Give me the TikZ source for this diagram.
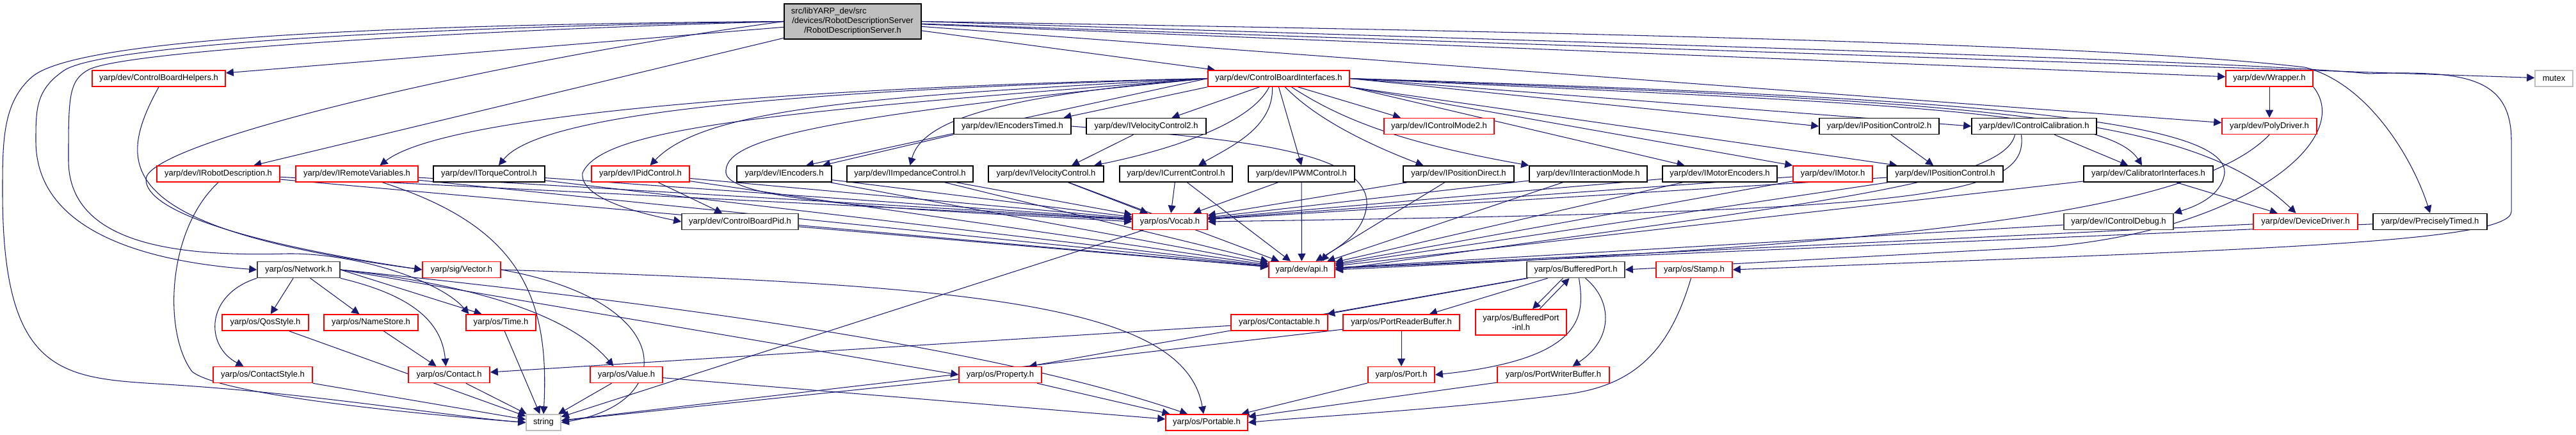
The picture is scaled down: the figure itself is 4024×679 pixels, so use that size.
\documentclass[tikz,border=0pt]{standalone}
\usepackage{fontspec}
\setmainfont{Liberation Sans}
\usetikzlibrary{arrows.meta,backgrounds}
\definecolor{edgeblue}{RGB}{25,25,112}
\definecolor{hdrgray}{RGB}{191,191,191}
\definecolor{boxdark}{RGB}{64,64,64}
\tikzset{
  incl/.style={draw=black,line width=0.45pt,fill=white,inner sep=0pt,
               minimum height=0.25cm,font=\fontsize{3.7}{4.25}\selectfont},
  inclred/.style={incl,draw=red},
  incldark/.style={incl,draw=boxdark},
  sysinc/.style={incl,draw=hdrgray},
  rootfile/.style={incl,fill=hdrgray,align=center},
  dep/.style={draw=edgeblue,line width=0.3pt,-{Triangle[length=3.4pt,width=3.4pt]}},
}
\begin{document}
\begin{tikzpicture}[x=0.01cm,y=-0.01cm]
\useasboundingbox (0,0) rectangle (4024,679);
% the file itself
\node[rootfile,minimum width=2.14cm,minimum height=0.55cm] (root) at (1332,33.5)
  {\makebox[1.92cm][l]{src/libYARP\_dev/src}\\/devices/RobotDescriptionServer\\/RobotDescriptionServer.h};
% row 1
\node[inclred,minimum width=2.08cm] (cbh) at (248,122.5) {yarp/dev/ControlBoardHelpers.h};
\node[inclred,minimum width=2.21cm] (cbi) at (1997.5,122.5) {yarp/dev/ControlBoardInterfaces.h};
\node[inclred,minimum width=1.36cm] (wrap) at (3545,122.5) {yarp/dev/Wrapper.h};
\node[sysinc,minimum width=0.59cm] (mutex) at (3989.5,122.5) {mutex};
% row 2
\node[incl,minimum width=1.83cm] (ietm) at (1581.5,197) {yarp/dev/IEncodersTimed.h};
\node[incl,minimum width=1.87cm] (ivc2) at (1790.5,197) {yarp/dev/IVelocityControl2.h};
\node[inclred,minimum width=1.72cm] (icm2) at (2248,197) {yarp/dev/IControlMode2.h};
\node[incl,minimum width=1.87cm] (ipc2) at (2935.5,197) {yarp/dev/IPositionControl2.h};
\node[incl,minimum width=1.95cm] (ical) at (3177.5,197) {yarp/dev/IControlCalibration.h};
\node[inclred,minimum width=1.48cm] (poly) at (3545,197) {yarp/dev/PolyDriver.h};
% row 3
\node[inclred,minimum width=1.92cm] (irbd) at (341,271.5) {yarp/dev/IRobotDescription.h};
\node[inclred,minimum width=1.91cm] (irv) at (557.5,271.5) {yarp/dev/IRemoteVariables.h};
\node[incl,minimum width=1.74cm] (itc) at (764,271.5) {yarp/dev/ITorqueControl.h};
\node[inclred,minimum width=1.53cm] (ipid) at (1000.5,271.5) {yarp/dev/IPidControl.h};
\node[incl,minimum width=1.48cm] (ienc) at (1225,271.5) {yarp/dev/IEncoders.h};
\node[incl,minimum width=1.97cm] (iimp) at (1421.5,271.5) {yarp/dev/IImpedanceControl.h};
\node[incl,minimum width=1.80cm] (ivc) at (1634,271.5) {yarp/dev/IVelocityControl.h};
\node[incl,minimum width=1.76cm] (icc) at (1837,271.5) {yarp/dev/ICurrentControl.h};
\node[incl,minimum width=1.66cm] (ipwm) at (2033,271.5) {yarp/dev/IPWMControl.h};
\node[incl,minimum width=1.73cm] (ipd) at (2278.5,271.5) {yarp/dev/IPositionDirect.h};
\node[incl,minimum width=1.84cm] (iim) at (2481,271.5) {yarp/dev/IInteractionMode.h};
\node[incl,minimum width=1.79cm] (ime) at (2686.5,271.5) {yarp/dev/IMotorEncoders.h};
\node[inclred,minimum width=1.24cm] (imot) at (2863,271.5) {yarp/dev/IMotor.h};
\node[incl,minimum width=1.81cm] (ipc) at (3038.5,271.5) {yarp/dev/IPositionControl.h};
\node[incl,minimum width=2.02cm] (cali) at (3356,271.5) {yarp/dev/CalibratorInterfaces.h};
% row 4
\node[incldark,minimum width=1.82cm] (cbpid) at (1156,346) {yarp/dev/ControlBoardPid.h};
\node[inclred,minimum width=1.17cm] (vocab) at (1827.5,346) {yarp/os/Vocab.h};
\node[incldark,minimum width=1.71cm] (idbg) at (3309.5,346) {yarp/dev/IControlDebug.h};
\node[inclred,minimum width=1.63cm] (ddrv) at (3601.5,346) {yarp/dev/DeviceDriver.h};
\node[incl,minimum width=1.78cm] (ptim) at (3796,346) {yarp/dev/PreciselyTimed.h};
% row 5
\node[incldark,minimum width=1.29cm] (net) at (466.5,421) {yarp/os/Network.h};
\node[inclred,minimum width=1.22cm] (vec) at (721,421) {yarp/sig/Vector.h};
\node[inclred,minimum width=1.03cm] (api) at (2033.5,421) {yarp/dev/api.h};
\node[incldark,minimum width=1.53cm] (bport) at (2461.5,421) {yarp/os/BufferedPort.h};
\node[inclred,minimum width=1.19cm] (stamp) at (2646.5,421) {yarp/os/Stamp.h};
% row 6
\node[inclred,minimum width=1.35cm] (qos) at (414.5,503.5) {yarp/os/QosStyle.h};
\node[inclred,minimum width=1.47cm] (nstore) at (579.5,503.5) {yarp/os/NameStore.h};
\node[inclred,minimum width=1.09cm] (time) at (782.5,503.5) {yarp/os/Time.h};
\node[inclred,minimum width=1.51cm] (ctable) at (1998.5,503.5) {yarp/os/Contactable.h};
\node[inclred,minimum width=1.82cm] (prb) at (2189,503.5) {yarp/os/PortReaderBuffer.h};
\node[inclred,align=center,minimum width=1.42cm,minimum height=0.40cm] (bpinl) at (2376,503) {yarp/os/BufferedPort\\-inl.h};
% row 7
\node[inclred,minimum width=1.55cm] (cstyle) at (410.5,585) {yarp/os/ContactStyle.h};
\node[inclred,minimum width=1.27cm] (contact) at (701.5,585) {yarp/os/Contact.h};
\node[inclred,minimum width=1.13cm] (value) at (978.5,585) {yarp/os/Value.h};
\node[inclred,minimum width=1.29cm] (prop) at (1562.5,585) {yarp/os/Property.h};
\node[inclred,minimum width=1.04cm] (port) at (2189,585) {yarp/os/Port.h};
\node[inclred,minimum width=1.75cm] (pwb) at (2426.5,585) {yarp/os/PortWriterBuffer.h};
% row 8
\node[sysinc,minimum width=0.54cm] (str) at (849,659.5) {string};
\node[inclred,minimum width=1.28cm] (portable) at (1885,659.5) {yarp/os/Portable.h};

\begin{scope}[on background layer]
% what the server header pulls in
\draw[dep] (root) -- (cbh);
\draw[dep] (root) -- (cbi);
\draw[dep] (root) -- (irbd);
\draw[dep] (root) -- (wrap);
\draw[dep] (root) -- (poly);
\draw[dep] (root) -- (mutex);
\draw[dep] (root.west) .. controls (600,38) and (120,60) .. (50,120) .. controls (4,160) and (4,220) .. (4,300)
  .. controls (4,590) and (100,590) .. (260,600) .. controls (500,615) and (700,650) .. (str.west);
\draw[dep] (root.west) .. controls (650,42) and (160,70) .. (100,110) .. controls (56,140) and (56,170) .. (56,220)
  .. controls (56,370) and (250,410) .. (net.west);
\draw[dep] (root.west) .. controls (700,48) and (200,80) .. (140,108) .. controls (107,125) and (107,150) .. (107,250)
  .. controls (107,390) and (300,400) .. (450,396) .. controls (560,395) and (690,440) .. ([xshift=-0.5cm]time.north);
\draw[dep] (root.west) .. controls (800,90) and (228,220) .. (228,280) .. controls (228,340) and (450,390) .. (vec.west);
\draw[dep] (root.east) .. controls (2500,50) and (3300,70) .. (3600,105) .. controls (3700,130) and (3770,250) .. (ptim.north);
\draw[dep] (root.east) .. controls (2600,70) and (3500,95) .. (3700,115) .. controls (3850,110) and (3923,120) .. (3923,220)
  -- (3923,330) .. controls (3923,380) and (3500,390) .. (stamp.east);
\draw[dep] (cbh.south) .. controls (180,260) and (175,355) .. (vec.west);

% ControlBoardInterfaces fan-out
\draw[dep] (cbi.west) .. controls (1300,135) and (700,175) .. ([xshift=0.36cm]irv.north);
\draw[dep] (cbi.west) .. controls (1300,140) and (850,170) .. ([xshift=0.15cm]itc.north);
\draw[dep] (cbi.west) .. controls (1350,150) and (1100,170) .. ([xshift=0.15cm]ipid.north);
\draw[dep] (cbi.west) -- ([xshift=0.34cm]ienc.north);
\draw[dep] (cbi.west) .. controls (1550,150) and (1440,190) .. (iimp.north);
\draw[dep] (cbi.west) .. controls (1250,185) and (1130,220) .. (1134,270) .. controls (1140,320) and (1500,330) .. (vocab.west);
\draw[dep] (cbi.west) .. controls (1200,175) and (940,200) .. (910,270) .. controls (905,310) and (1000,333) .. (cbpid.west);
\draw[dep] (cbi.south west) -- ([xshift=0.8cm]ietm.north);
\draw[dep] ([xshift=-0.3cm]cbi.south) -- ([xshift=0.4cm]ivc2.north);
\draw[dep] ([xshift=-0.15cm]cbi.south) .. controls (1950,200) and (1800,240) .. ([xshift=0.75cm]ivc.north);
\draw[dep] ([xshift=-0.1cm]cbi.south) .. controls (1990,200) and (1920,230) .. ([xshift=0.35cm]icc.north);
\draw[dep] (cbi.south) -- (ipwm.north);
\draw[dep] ([xshift=0.3cm]cbi.south) -- ([xshift=-0.6cm]icm2.north);
\draw[dep] ([xshift=0.1cm]cbi.south) .. controls (2060,190) and (2150,230) .. ([xshift=-0.55cm]ipd.north);
\draw[dep] ([xshift=0.2cm]cbi.south) .. controls (2100,190) and (2200,225) .. (iim.north west);
\draw[dep] (cbi.south east) -- ([xshift=-0.55cm]ime.north);
\draw[dep] (cbi.south east) -- (imot.north west);
\draw[dep] (cbi.south east) -- ([xshift=-0.75cm]ipc.north);
\draw[dep] (cbi.east) -- (ipc2.west);
\draw[dep] (cbi.east) -- (ical.west);
\draw[dep] (cbi.east) .. controls (2900,160) and (3290,170) .. ([xshift=-0.1cm]cali.north);
\draw[dep] (cbi.east) .. controls (3000,150) and (3480,180) .. (3475,270) .. controls (3470,310) and (3420,325) .. (idbg.north east);
\draw[dep] (cbi.east) .. controls (3100,160) and (3420,175) .. ([xshift=-0.15cm]ddrv.north);

% interfaces between themselves
\draw[dep] (ietm.south west) -- ([xshift=0.6cm]ienc.north);
\draw[dep] (ietm.east) .. controls (1900,215) and (2140,230) .. (2135,320) .. controls (2130,370) and (2080,390) .. ([xshift=0.3cm]api.north);
\draw[dep] ([xshift=-0.2cm]ivc2.south) -- ([xshift=0.4cm]ivc.north);
\draw[dep] (ipc2) -- (ipc);
\draw[dep] (ical) -- (cali);
\draw[dep] (cali) -- (ddrv);
\draw[dep] (ipid) -- (cbpid);
\draw[dep] (wrap) -- (poly);

% everything needs Vocab.h and api.h
\foreach \n in {irbd,irv,itc,ipid,ienc,iimp,ivc,icc,ipwm,ipd,iim,ime,imot,ipc}{
  \draw[dep] (\n) -- (vocab);
  \draw[dep] (\n) -- (api);
}
\draw[dep] ([xshift=-0.2cm]ical.south) .. controls (3170,310) and (3000,330) .. (vocab.east);
\draw[dep] ([xshift=-0.3cm]ical.south) .. controls (3130,290) and (2800,320) .. (api.east);
\foreach \n in {cbpid,cali,idbg,ddrv,ptim}
  \draw[dep] (\n) -- (api);
\draw[dep] (poly.south) .. controls (3430,330) and (3000,380) .. (api.east);
\draw[dep] (wrap.south east) .. controls (3680,220) and (3500,360) .. (3200,385) -- (bport.east);

% os layer
\draw[dep] (net) -- (qos);
\draw[dep] (net) -- (nstore);
\draw[dep] (net.south west) .. controls (320,460) and (320,540) .. ([xshift=-0.3cm]cstyle.north);
\draw[dep] (net.south east) .. controls (640,460) and (690,500) .. ([xshift=-0.05cm]contact.north);
\draw[dep] (net.east) -- ([xshift=-0.3cm]time.north);
\draw[dep] (net.east) .. controls (700,440) and (880,480) .. ([xshift=-0.2cm]value.north);
\draw[dep] (net.east) -- (prop.west);
\draw[dep] (net.east) .. controls (1200,490) and (1600,560) .. ([xshift=-0.3cm]portable.north);
\draw[dep] (vec.east) .. controls (1060,470) and (1060,630) .. (str.east);
\draw[dep] (vec.east) .. controls (1500,445) and (1850,470) .. ([xshift=-0.05cm]portable.north);
\draw[dep] (irbd.south) .. controls (260,360) and (255,520) .. (300,580) .. controls (350,620) and (700,650) .. (str.west);
\draw[dep] ([xshift=0.4cm]irv.south) .. controls (800,350) and (860,450) .. (str.north);
\draw[dep] (nstore) -- (contact);
\foreach \n in {qos,cstyle,contact,time,value,prop,vocab,prb}
  \draw[dep] (\n) -- (str);
\foreach \n in {value,prop,port,pwb}
  \draw[dep] (\n) -- (portable);
\draw[dep] (ctable) -- (contact);

% BufferedPort and friends
\draw[dep] (bport) -- (ctable);
\draw[dep] (bport) -- (prb);
\draw[dep] (bport.south west) -- ([xshift=0.45cm]prop.north);
\draw[dep] ([xshift=-0.2cm]bport.south) -- ([xshift=0.18cm]bpinl.north);
\draw[dep] ([xshift=0.29cm]bpinl.north) -- ([xshift=-0.1cm]bport.south);
\draw[dep] ([xshift=0.05cm]bport.south) .. controls (2475,490) and (2480,560) .. (port.east);
\draw[dep] ([xshift=0.15cm]bport.south) .. controls (2520,470) and (2520,530) .. ([xshift=0.3cm]pwb.north);
\draw[dep] (prb) -- (port);
\draw[dep] ([xshift=-0.05cm]stamp.south) .. controls (2610,540) and (2560,600) .. (2450,615) .. controls (2250,640) and (2050,650) .. (portable.east);
\end{scope}
\end{tikzpicture}
\end{document}
